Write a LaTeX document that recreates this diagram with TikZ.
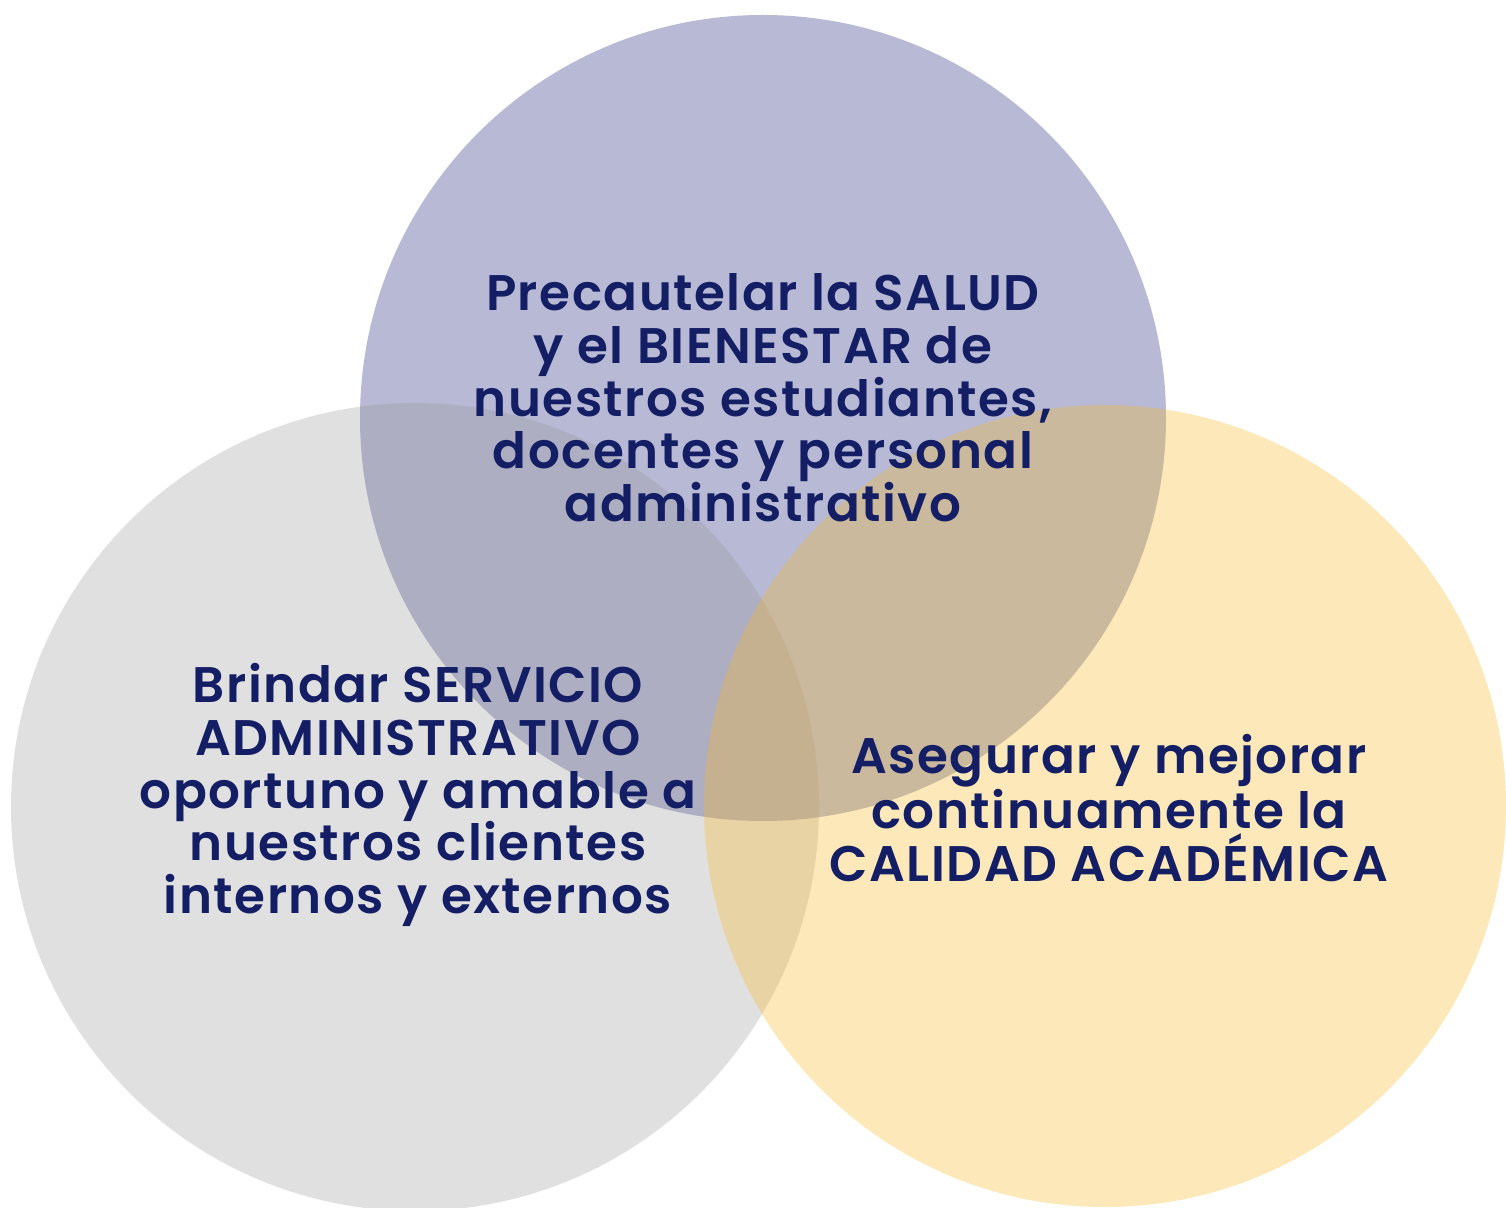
\documentclass[tikz,border=0pt]{standalone}
\usepackage{fontspec}
\setmainfont{Poppins}[BoldFont={Poppins SemiBold},LetterSpace=3]
\definecolor{lav}{HTML}{B7B9D5}
\definecolor{greyc}{RGB}{149,149,149}
\definecolor{yel}{RGB}{246,185,43}
\definecolor{navy}{HTML}{141E64}
\begin{document}
\begin{tikzpicture}[x=0.5pt,y=-0.5pt,
  circ/.style={draw=none},
  label/.style={text=navy,align=center,inner sep=0pt,
    font=\fontsize{25}{26.35}\selectfont\bfseries}]
\useasboundingbox (0,0) rectangle (1506,1208);
\clip (0,0) rectangle (1506,1208);
\fill[lav] (763,418) circle[radius=403];
\fill[greyc,fill opacity=0.29] (415,807) circle[radius=404];
\fill[yel,fill opacity=0.33] (1105,806) circle[radius=401];
\node[label] (salud) at (763,398) {Precautelar la SALUD\\y el BIENESTAR de\\nuestros estudiantes,\\docentes y personal\\administrativo};
\node[label] (servicio) at (418,795) {Brindar SERVICIO\\ADMINISTRATIVO\\oportuno y amable a\\nuestros clientes\\internos y externos};
\node[label] (calidad) at (1109,808) {Asegurar y mejorar\\continuamente la\\CALIDAD ACADÉMICA};
\end{tikzpicture}
\end{document}
